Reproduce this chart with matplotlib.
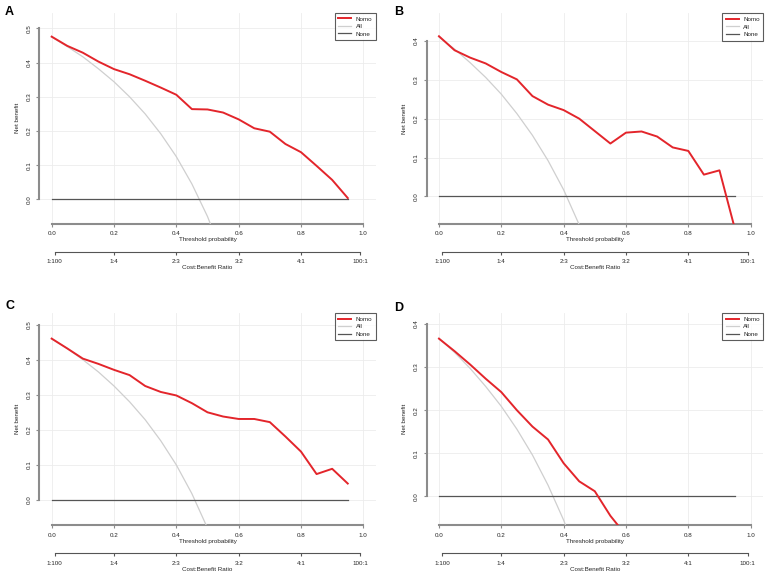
"""
Decision curves (Nomo / All / None) for four cohorts, 2x2 layout.
"""

import matplotlib
matplotlib.use("Agg")
import matplotlib.pyplot as plt

# ---------------------------------------------------------------------------
# Data
# ---------------------------------------------------------------------------

thresholds = [0.00, 0.05, 0.10, 0.15, 0.20, 0.25, 0.30, 0.35, 0.40, 0.45,
              0.50, 0.55, 0.60, 0.65, 0.70, 0.75, 0.80, 0.85, 0.90, 0.95]

nomo_a = [0.476, 0.449, 0.429, 0.403, 0.381, 0.366, 0.347, 0.327, 0.306, 0.264,
          0.263, 0.254, 0.234, 0.208, 0.198, 0.162, 0.138, 0.098, 0.057, 0.004]
all_a = [0.475, 0.447, 0.417, 0.382, 0.344, 0.300, 0.250, 0.192, 0.125, 0.045,
         -0.050, -0.167]

nomo_b = [0.412, 0.376, 0.357, 0.342, 0.320, 0.301, 0.258, 0.236, 0.222, 0.200,
          0.168, 0.136, 0.164, 0.167, 0.154, 0.126, 0.117, 0.056, 0.067, -0.085]
all_b = [0.410, 0.379, 0.344, 0.306, 0.263, 0.213, 0.157, 0.092, 0.017, -0.073,
         -0.180]

nomo_c = [0.460, 0.432, 0.403, 0.388, 0.371, 0.356, 0.325, 0.308, 0.298, 0.276,
          0.250, 0.238, 0.231, 0.231, 0.222, 0.181, 0.138, 0.074, 0.089, 0.047]
all_c = [0.460, 0.432, 0.400, 0.365, 0.325, 0.280, 0.229, 0.169, 0.100, 0.018,
         -0.080]

nomo_d = [0.366, 0.337, 0.306, 0.273, 0.242, 0.200, 0.162, 0.132, 0.077, 0.035,
          0.012, -0.045, -0.090]
all_d = [0.367, 0.334, 0.297, 0.255, 0.209, 0.156, 0.096, 0.026, -0.055, -0.151]

none_nb = [0.0] * len(thresholds)

cb_ticks = [1 / 101, 0.2, 0.4, 0.6, 0.8, 100 / 101]
cb_labels = ["1:100", "1:4", "2:3", "3:2", "4:1", "100:1"]
x_ticks = [0.0, 0.2, 0.4, 0.6, 0.8, 1.0]

# ---------------------------------------------------------------------------
# Styling
# ---------------------------------------------------------------------------

_RED = "#e3252b"
_ALL = "#cfcfcf"
_NONE = "#555555"
_AXIS = "#8c8c8c"
_GRID = "#ececec"
_TXT = "#262626"
_FS = 4.5

plt.rcParams["font.family"] = ["Liberation Sans", "DejaVu Sans"]

W, H = 767, 576
fig = plt.figure(figsize=(W / 100, H / 100), dpi=100)


def _axes_px(left, top, right, bottom):
    return fig.add_axes([left / W, 1 - bottom / H, (right - left) / W, (bottom - top) / H])


def panel(box, ylim, yticks, nomo, all_nb, letter, letter_xy):
    ax = _axes_px(*box)
    ax.set_xlim(-0.04, 1.04)
    ax.set_ylim(*ylim)

    ax.set_xticks(x_ticks)
    ax.set_xticklabels([f"{v:.1f}" for v in x_ticks])
    ax.set_yticks(yticks)
    ax.set_yticklabels([f"{v:.1f}" for v in yticks], rotation=90, va="center")
    ax.grid(True, color=_GRID, linewidth=0.6, zorder=0)

    for s in ("top", "right"):
        ax.spines[s].set_visible(False)
    ax.spines["bottom"].set_bounds(0, 1)
    ax.spines["bottom"].set_color(_AXIS)
    ax.spines["bottom"].set_linewidth(1.5)
    ax.spines["left"].set_bounds(0, yticks[-1])
    ax.spines["left"].set_color(_AXIS)
    ax.spines["left"].set_linewidth(1.5)
    ax.tick_params(axis="both", length=2.5, width=0.8, color=_AXIS,
                   labelsize=_FS, labelcolor=_TXT, pad=2.8)

    ax.plot(thresholds[:len(nomo)], nomo, color=_RED, lw=1.4, label="Nomo", zorder=4)
    ax.plot(thresholds[:len(all_nb)], all_nb, color=_ALL, lw=0.9, label="All", zorder=3)
    ax.plot(thresholds, none_nb, color=_NONE, lw=0.9, label="None", zorder=3)

    ax.set_xlabel("Threshold probability", fontsize=_FS, color=_TXT, labelpad=0.8)
    ax.set_ylabel("Net benefit", fontsize=_FS, color=_TXT, labelpad=5)

    # cost:benefit ratio axis below the threshold axis
    h = box[3] - box[1]
    sec = ax.secondary_xaxis(-28 / h)
    sec.set_xticks(cb_ticks)
    sec.set_xticklabels(cb_labels)
    sec.spines["bottom"].set_bounds(cb_ticks[0], cb_ticks[-1])
    sec.spines["bottom"].set_color(_NONE)
    sec.spines["bottom"].set_linewidth(0.8)
    sec.tick_params(axis="x", length=2.5, width=0.8, color=_NONE,
                    labelsize=_FS, labelcolor=_TXT, pad=2.8)
    sec.set_xlabel("Cost:Benefit Ratio", fontsize=_FS, color=_TXT, labelpad=0.8)

    leg = ax.legend(loc="upper right", bbox_to_anchor=(1.0, 1.0), fontsize=_FS,
                    frameon=True, fancybox=False, edgecolor="#333333",
                    borderaxespad=0, handlelength=2.1, handletextpad=0.7,
                    labelspacing=0.35, borderpad=0.55)
    leg.get_frame().set_linewidth(0.8)
    for t in leg.get_texts():
        t.set_color(_TXT)

    fig.text(letter_xy[0] / W, 1 - letter_xy[1] / H, letter, fontsize=9,
             fontweight="bold", ha="left", va="baseline")
    return ax


panel((39.2, 12.7, 375.8, 224.0), (-0.072, 0.546), [0.0, 0.1, 0.2, 0.3, 0.4, 0.5],
      nomo_a, all_a, "A", (5, 15))
panel((426.5, 13.3, 763.1, 224.0), (-0.071, 0.471), [0.0, 0.1, 0.2, 0.3, 0.4],
      nomo_b, all_b, "B", (394, 15))
panel((39.2, 313.0, 375.8, 525.3), (-0.072, 0.533), [0.0, 0.1, 0.2, 0.3, 0.4, 0.5],
      nomo_c, all_c, "C", (5, 308.7))
panel((426.5, 313.0, 763.1, 525.3), (-0.067, 0.4255), [0.0, 0.1, 0.2, 0.3, 0.4],
      nomo_d, all_d, "D", (394, 310.7))

fig.savefig("out.png", dpi=100)
